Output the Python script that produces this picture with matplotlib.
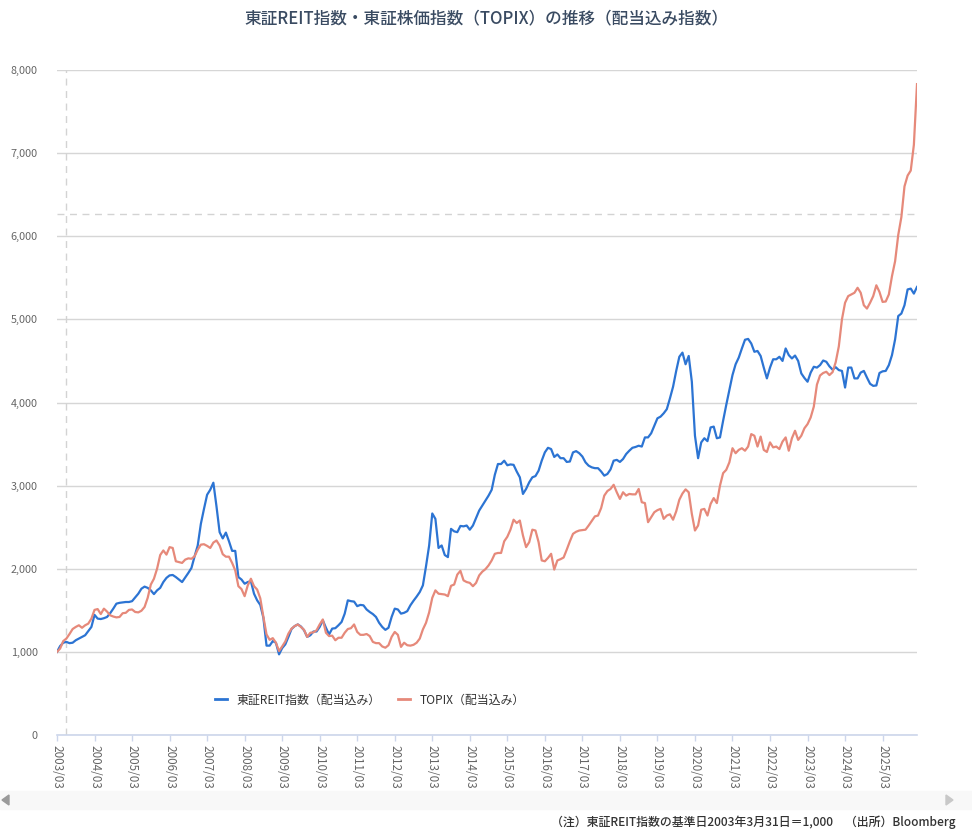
import matplotlib.pyplot as plt
from matplotlib.lines import Line2D
from matplotlib.patches import Rectangle, Polygon

plt.rcParams['font.family'] = ['Noto Sans CJK JP', 'DejaVu Sans']

# monthly, 2003/03 .. 2026/02 (one row = Mar..Feb)
reit = [
    1000, 1070, 1110, 1120, 1105, 1110, 1140, 1160, 1180, 1200, 1250, 1300,
    1445, 1400, 1395, 1405, 1420, 1465, 1520, 1580, 1590, 1595, 1600, 1600,
    1610, 1655, 1700, 1760, 1785, 1770, 1740, 1695, 1740, 1770, 1840, 1890,
    1920, 1925, 1900, 1870, 1840, 1895, 1950, 2010, 2150, 2280, 2540, 2720,
    2890, 2950, 3035, 2750, 2440, 2365, 2435, 2330, 2215, 2215, 1900, 1870,
    1820, 1840, 1850, 1700, 1620, 1565, 1410, 1075, 1075, 1130, 1110, 970,
    1045, 1090, 1180, 1275, 1310, 1330, 1305, 1260, 1180, 1200, 1245, 1245,
    1300, 1380, 1290, 1210, 1280, 1285, 1320, 1360, 1460, 1620, 1610, 1605,
    1550, 1565, 1560, 1510, 1480, 1455, 1420, 1350, 1300, 1265, 1290, 1420,
    1520, 1510, 1460, 1470, 1490, 1560, 1615, 1665, 1720, 1800, 2030, 2280,
    2665, 2600, 2250, 2280, 2165, 2140, 2480, 2450, 2440, 2515, 2510, 2520,
    2470, 2520, 2610, 2700, 2760, 2820, 2880, 2950, 3130, 3260, 3260, 3300,
    3245, 3255, 3250, 3170, 3100, 2900, 2960, 3040, 3100, 3115, 3180, 3300,
    3400, 3455, 3440, 3345, 3375, 3330, 3330, 3285, 3290, 3400, 3415, 3390,
    3350, 3280, 3240, 3220, 3210, 3210, 3170, 3120, 3140, 3195, 3300, 3310,
    3285, 3320, 3380, 3420, 3455, 3465, 3480, 3470, 3580, 3580, 3630, 3720,
    3810, 3830, 3870, 3920, 4050, 4190, 4380, 4550, 4600, 4460, 4560, 4250,
    3600, 3330, 3520, 3570, 3535, 3700, 3710, 3570, 3580, 3780, 3970, 4150,
    4330, 4460, 4540, 4650, 4755, 4765, 4710, 4610, 4620, 4560, 4420, 4290,
    4420, 4520, 4520, 4550, 4500, 4650, 4570, 4530, 4565, 4500, 4350, 4295,
    4250, 4360, 4430, 4420, 4450, 4505, 4490, 4435, 4395, 4425, 4390, 4380,
    4180, 4420, 4420, 4290, 4290, 4360, 4380, 4300, 4225, 4200, 4205, 4355,
    4375, 4380, 4450, 4570, 4760, 5040, 5070, 5170, 5360, 5370, 5310, 5390,
]

topix = [
    1000, 1040, 1130, 1160, 1215, 1275, 1300, 1320, 1290, 1320, 1340, 1400,
    1505, 1515, 1455, 1520, 1485, 1440, 1425, 1415, 1420, 1465, 1470, 1505,
    1510, 1480, 1475, 1495, 1540, 1650, 1810, 1880, 2000, 2165, 2220, 2170,
    2260, 2250, 2090, 2080, 2070, 2110, 2125, 2120, 2150, 2230, 2290, 2295,
    2275, 2250, 2315, 2340, 2280, 2175, 2145, 2145, 2070, 1980, 1790, 1755,
    1670, 1800, 1880, 1790, 1750, 1645, 1420, 1210, 1145, 1165, 1110, 1010,
    1065, 1125, 1220, 1280, 1310, 1330, 1300, 1265, 1180, 1230, 1235, 1260,
    1330, 1390, 1230, 1190, 1195, 1140, 1170, 1170, 1230, 1275, 1285, 1330,
    1240, 1205, 1205, 1215, 1190, 1120, 1105, 1105, 1065, 1050, 1080, 1180,
    1240, 1205, 1060, 1110, 1080, 1075, 1085, 1110, 1160, 1270, 1350, 1475,
    1650, 1740, 1700, 1695, 1690, 1670, 1795, 1810, 1930, 1975, 1860, 1840,
    1830, 1790, 1830, 1920, 1965, 1995, 2040, 2100, 2180, 2190, 2190, 2330,
    2385, 2470, 2590, 2550, 2580, 2400, 2260, 2320, 2470, 2460, 2320, 2100,
    2090, 2130, 2180, 1990, 2100, 2115, 2135, 2230, 2330, 2420, 2445, 2460,
    2465, 2470, 2520, 2575, 2630, 2640, 2730, 2880, 2935, 2960, 3010, 2920,
    2840, 2920, 2880, 2900, 2895, 2895, 2960, 2800, 2790, 2560, 2620, 2680,
    2705, 2720, 2600, 2640, 2655, 2590, 2690, 2830, 2905, 2955, 2920, 2660,
    2460, 2520, 2710, 2720, 2640, 2780, 2850, 2790, 3000, 3150, 3190, 3280,
    3450, 3390, 3430, 3450, 3420, 3470, 3620, 3600, 3470, 3590, 3430, 3405,
    3520, 3460, 3470, 3440, 3530, 3580, 3420, 3570, 3660, 3550, 3600, 3690,
    3740, 3820, 3950, 4215, 4325, 4355, 4370, 4330, 4365, 4485, 4675, 5000,
    5200, 5280, 5300, 5320, 5380, 5320, 5170, 5130, 5200, 5280, 5410, 5330,
    5210, 5215, 5300, 5520, 5700, 6015, 6230, 6600, 6730, 6790, 7100, 7830,
]

tick_labels = ['%d/03' % y for y in range(2003, 2026)]
yticks = [0, 1000, 2000, 3000, 4000, 5000, 6000, 7000, 8000]

blue = '#2c74d3'
salmon = '#e6897a'
axis_col = '#ccd6eb'

fig = plt.figure(figsize=(9.72, 8.31), dpi=100)
ax = fig.add_axes([57/972, 1 - 735/831, 860/972, 665/831])

x = list(range(len(reit)))
ax.plot(x, reit, color=blue, lw=1.6, label='東証REIT指数（配当込み）', zorder=3)
ax.plot(x, topix, color=salmon, lw=1.6, label='TOPIX（配当込み）', zorder=3)

ax.set_xlim(0, len(reit) - 1)
ax.set_ylim(0, 8000)
ax.set_yticks(yticks)
ax.set_yticklabels(['{:,}'.format(v) for v in yticks])
ax.set_xticks(range(0, 12 * len(tick_labels), 12))
ax.set_xticklabels(tick_labels, rotation=270)

ax.grid(axis='y', color='#d6d6d6', lw=1)
ax.set_axisbelow(True)
for s in ['top', 'right', 'left']:
    ax.spines[s].set_visible(False)
ax.spines['bottom'].set_color(axis_col)
ax.spines['bottom'].set_linewidth(1.2)
ax.tick_params(axis='y', length=0, pad=14, labelsize=7.8, labelcolor='#666666')
ax.tick_params(axis='x', length=4, width=1, color=axis_col, pad=3,
               labelsize=8.4, labelcolor='#666666')

# hover crosshair
ax.axvline(3, color='#d3d3d3', lw=1, dashes=(5, 4), zorder=1)
ax.axhline(6270, color='#d3d3d3', lw=1, dashes=(5, 4), zorder=1)

handles = [Line2D([0], [0], color=blue, lw=2),
           Line2D([0], [0], color=salmon, lw=2)]
fig.legend(handles, ['東証REIT指数（配当込み）', 'TOPIX（配当込み）'],
           loc='center', bbox_to_anchor=(370/972, 1 - 700/831), ncol=2,
           frameon=False, fontsize=8.6, handlelength=1.0, handletextpad=0.8,
           columnspacing=1.5, labelcolor='#333333')

fig.text(0.5, 1 - 18/831, '東証REIT指数・東証株価指数（TOPIX）の推移（配当込み指数）',
         ha='center', va='center', fontsize=12, color='#3a4b62', fontweight='medium')

# scrollbar strip
fig.patches.append(Rectangle((0, 1 - 809/831), 1, 18/831, transform=fig.transFigure,
                             color='#f8f8f8', zorder=0))
fig.patches.append(Polygon([(2/972, 1 - 800/831), (9/972, 1 - 795/831), (9/972, 1 - 805/831)],
                           closed=True, transform=fig.transFigure, color='#9a9a9a'))
fig.patches.append(Polygon([(953/972, 1 - 800/831), (946/972, 1 - 795/831), (946/972, 1 - 805/831)],
                           closed=True, transform=fig.transFigure, color='#c8c8c8'))

fig.text(955/972, 1 - 822/831,
         '（注）東証REIT指数の基準日2003年3月31日＝1,000　（出所）Bloomberg',
         ha='right', va='center', fontsize=8.6, color='#333333', fontweight='medium')

fig.savefig('out.png', dpi=100)
